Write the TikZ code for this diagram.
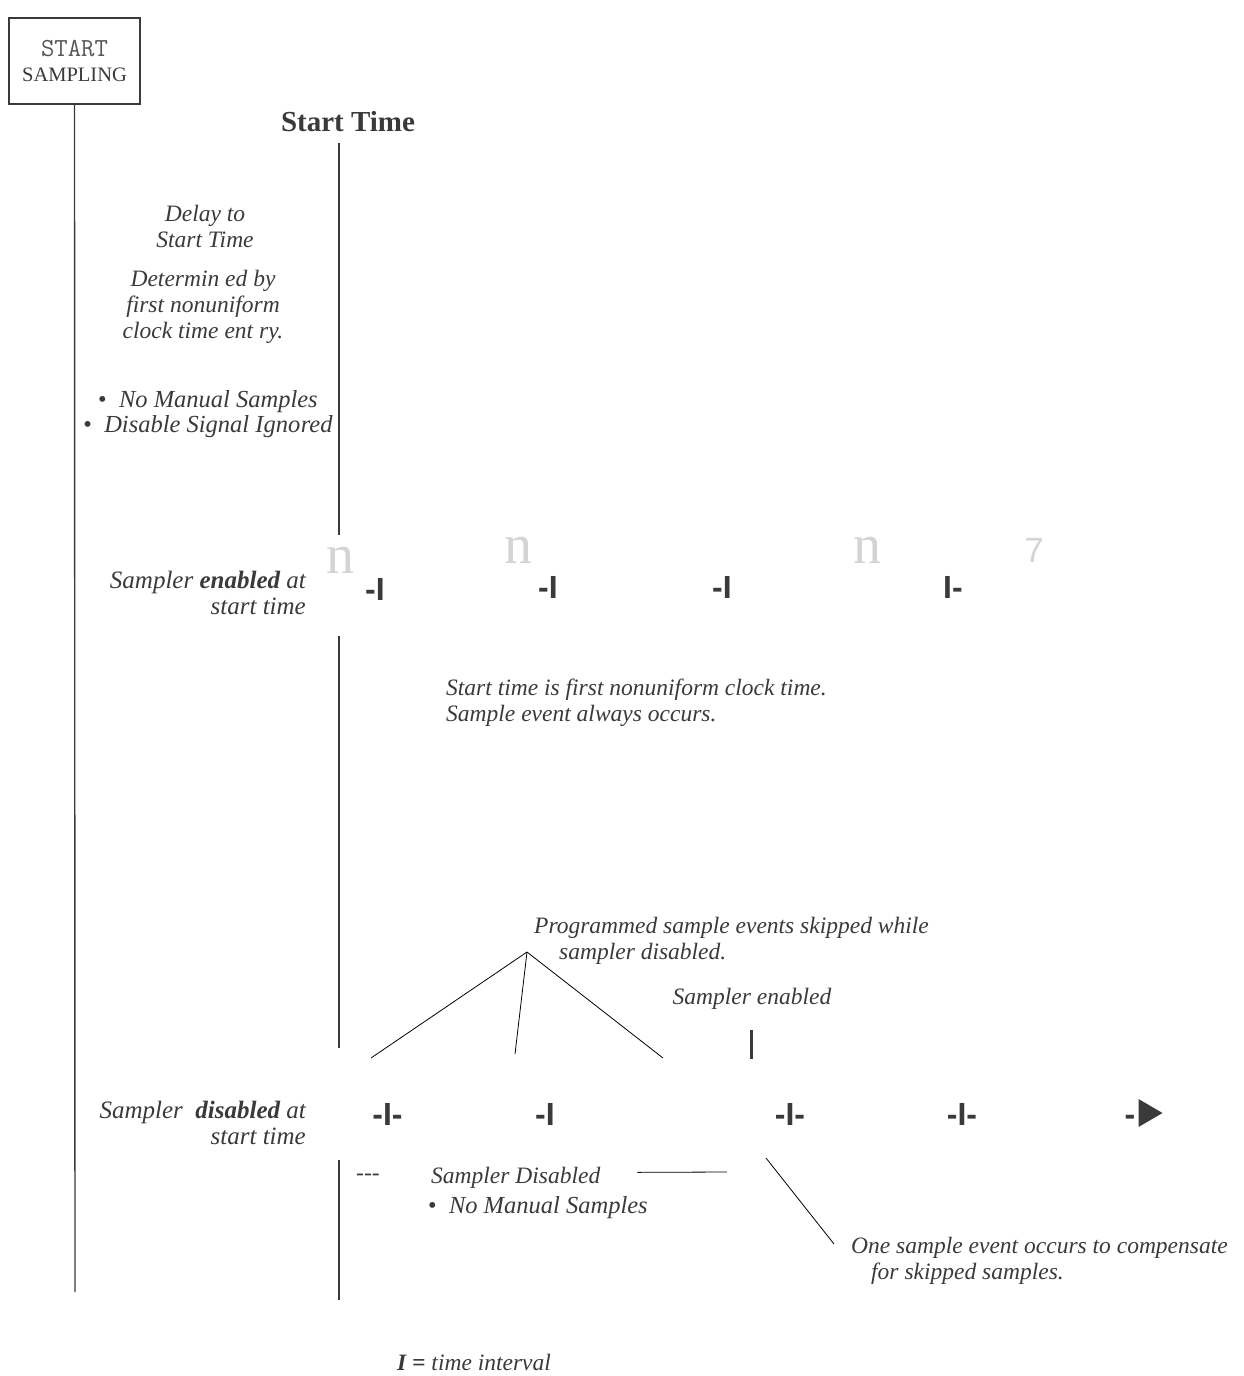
\documentclass[tikz,border=0pt]{standalone}
\usepackage{fontspec}
\setmainfont{Liberation Serif}
\setsansfont{Liberation Sans}
\usetikzlibrary{positioning,calc}
\definecolor{ink}{RGB}{58,58,58}
\definecolor{ghost}{RGB}{212,212,212}

\begin{document}
\begin{tikzpicture}[x=1pt,y=-1pt,
  note/.style={font=\fontsize{23.5}{26}\selectfont\itshape, text=ink, inner sep=0pt},
  bullets/.style={note, font=\fontsize{24.5}{25}\selectfont\itshape},
  rowlabel/.style={note, font=\fontsize{25}{26}\selectfont\itshape, align=right, anchor=base east},
  tick/.style={font=\fontsize{32}{32}\selectfont\sffamily\bfseries, text=ink, inner sep=0pt, anchor=base},
  faint/.style={font=\fontsize{56}{56}\selectfont, text=ghost, inner sep=0pt, anchor=base},
  axis/.style={draw=ink, line width=1.4pt},
  lead/.style={draw=black, line width=0.8pt}]
  \useasboundingbox (0,0) rectangle (1244,1376);

  % start box and its own time line
  \node[draw=ink, line width=1.2pt, minimum width=131pt, minimum height=86pt, inner sep=0pt,
        align=center, text=ink, font=\fontsize{20.5}{25}\selectfont] (box) at (74.5,61)
    {{\ttfamily\fontsize{26}{25}\selectfont\color{ink!85}START}\\SAMPLING};
  \coordinate (boxend) at (75,1292);
  \draw[axis] (box.south) -- (boxend);

  % start time line, broken at each sampler row
  \node[font=\fontsize{29}{32}\selectfont\bfseries, text=ink, inner sep=0pt, anchor=base] (st) at (348,131) {Start Time};
  \coordinate (t0) at (339,143);
  \coordinate (t1) at (339,535);
  \coordinate (t2) at (339,636);
  \coordinate (t3) at (339,1048);
  \coordinate (t4) at (339,1160);
  \coordinate (t5) at (339,1300);
  \draw[axis] (t0) -- (t1);
  \draw[axis] (t2) -- (t3);
  \draw[axis] (t4) -- (t5);

  % (base of a wrapped node = its last line)
  \node[note, align=center, anchor=base] (delay) at (205,247) {Delay to\\Start Time};
  \node[note, align=center, anchor=base] (determ) at (203,338)
    {Determin ed by\\first nonuniform\\clock time ent ry.};
  \node[bullets, align=center, anchor=base] (nomanual) at (208,432)
    {{\upshape\textbullet}\ \ No Manual Samples\\{\upshape\textbullet}\ \ Disable Signal Igno\kern0.5pt red};

  % enabled row
  \node[rowlabel] (enab) at (306,614)
    {Sampler \textbf{enabled} at\\start time};
  \node[faint] (n1) at (340,573) {n};
  \node[faint] (n2) at (518,563) {n};
  \node[faint] (n3) at (867,563) {n};
  \node[faint, font=\fontsize{35}{35}\selectfont\sffamily] (n4) at (1034,562) {7};
  \node[tick] (a1) at (375,600) {-I};
  \node[tick] (a2) at (548,598) {-I};
  \node[tick] (a3) at (722,598) {-I};
  \node[tick] (a4) at (953,598) {I-};
  \node[note, align=left, anchor=base west] (always) at (446,721)
    {Start time is first nonuniform clock time.\\Sample event always occurs.};

  % disabled row
  \node[note, align=left, anchor=base west] (skip) at (534,959)
    {Programmed sample events skipped while\\\hspace*{25pt}sampler disabled.};
  \coordinate (apex) at (527,952);
  \coordinate (s1) at (371,1058);
  \coordinate (s2) at (515,1054);
  \coordinate (s3) at (663,1058);
  \draw[lead] (s1) -- (apex) -- (s3);
  \draw[lead] (apex) -- (s2);
  \node[note, anchor=base] (reen) at (752,1004) {Sampler enabled};
  \draw[ink, line width=3pt] (751,1030) -- (751,1059);

  \node[rowlabel] (disab) at (306,1144)
    {Sampler \ \textbf{disabled} at\\start time};
  \node[tick] (b1) at (387.5,1125) {-I-};
  \node[tick] (b2) at (545,1125) {-I};
  \node[tick] (b3) at (790,1125) {-I-};
  \node[tick] (b4) at (962,1125) {-I-};
  \node[tick] (b5) at (1130,1125) {-};
  \fill[ink] ($(b5.base east)+(3,-26)$) -- ++(24,14) -- ++(-24,14) -- cycle;

  \node[note, font=\fontsize{23.5}{26}\selectfont\upshape, anchor=base west] (dash) at (356,1180) {-{}-{}-};
  \node[note, anchor=base west] (off) at (431,1183) {Sampler Disabled};
  \coordinate (offend) at (727,1172);
  \draw[lead] ($(off.east)+(37,-5)$) -- (offend);
  \node[bullets, anchor=base west] (offman) at (428,1213)
    {{\upshape\textbullet}\ \ No Manual Samples};

  \coordinate (c0) at (766,1158);
  \coordinate (c1) at (834,1244);
  \draw[lead] (c0) -- (c1);
  \node[note, align=left, anchor=base west] (comp) at (851,1279)
    {One sample event occurs to compensate\\\hspace*{20pt}for skipped samples.};

  \node[note, anchor=base west] (legend) at (397,1370) {\textbf{I =} time interval};
\end{tikzpicture}
\end{document}
